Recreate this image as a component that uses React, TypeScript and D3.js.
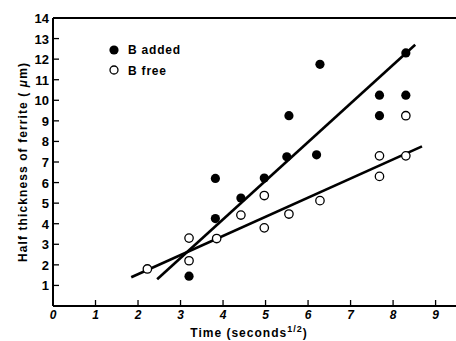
import React from 'react';
import * as d3 from 'd3';

// B added (filled circles)
const addedX = [3.2, 3.82, 3.82, 4.42, 4.97, 5.5, 5.55, 6.2, 6.28, 7.68, 7.68, 8.3, 8.3];
const addedY = [1.45, 6.2, 4.25, 5.25, 6.22, 7.25, 9.25, 7.35, 11.75, 10.25, 9.25, 12.3, 10.25];

// B free (open circles)
const freeX = [2.22, 3.2, 3.2, 3.85, 4.42, 4.97, 4.97, 5.55, 6.28, 7.68, 7.68, 8.3, 8.3];
const freeY = [1.8, 3.3, 2.2, 3.28, 4.42, 5.37, 3.8, 4.47, 5.12, 6.3, 7.3, 9.25, 7.3];

// fitted lines (endpoints)
const addedFitX = [2.45, 8.52];
const addedFitY = [1.3, 12.7];
const freeFitX = [1.84, 8.68];
const freeFitY = [1.4, 7.76];

const xTicks = [0, 1, 2, 3, 4, 5, 6, 7, 8, 9];
const yTicks = [1, 2, 3, 4, 5, 6, 7, 8, 9, 10, 11, 12, 13, 14];

const W = 456;
const H = 341;

const App = () => {
  const x = d3.scaleLinear().domain([0, 9.48]).range([53, 456]);
  const y = d3.scaleLinear().domain([0, 14]).range([306, 18]);
  const line = d3.line<[number, number]>().x(d => x(d[0])).y(d => y(d[1]));

  const font = 'Liberation Sans, Arial, sans-serif';

  return (
    <svg width={W} height={H} style={{ position: 'absolute', left: 0, top: 0, background: '#fff' }}>
      {/* frame */}
      <line x1={x(0)} x2={x(0)} y1={y(0)} y2={y(14)} stroke="#000" strokeWidth={2} />
      <line x1={x(0)} x2={W} y1={y(0)} y2={y(0)} stroke="#000" strokeWidth={2} />
      <line x1={x(0)} x2={W} y1={y(14)} y2={y(14)} stroke="#000" strokeWidth={2} />

      {yTicks.map(t => (
        <g key={'y' + t}>
          <line x1={x(0)} x2={x(0) + 6} y1={y(t)} y2={y(t)} stroke="#000" strokeWidth={1.3} />
          <text x={x(0) - 4} y={y(t) + 5} textAnchor="end" fontFamily={font} fontWeight="bold" fontSize={13}>
            {t}
          </text>
        </g>
      ))}
      {xTicks.map(t => (
        <g key={'x' + t}>
          {t > 0 && <line x1={x(t)} x2={x(t)} y1={y(0)} y2={y(0) - 6} stroke="#000" strokeWidth={1.3} />}
          <text x={x(t)} y={319} textAnchor="middle" fontFamily={font} fontWeight="bold" fontStyle="italic" fontSize={12}>
            {t}
          </text>
        </g>
      ))}

      {/* axis titles */}
      <text x={249} y={337} textAnchor="middle" fontFamily={font} fontWeight="bold" fontSize={12} letterSpacing={1}>
        Time (seconds<tspan dy={-5} fontSize={9}>1/2</tspan><tspan dy={5}>)</tspan>
      </text>
      <text transform={`translate(27,${162}) rotate(-90)`} textAnchor="middle" fontFamily={font} fontWeight="bold" fontSize={12} letterSpacing={1.1}>
        Half thickness of ferrite ( <tspan fontStyle="italic">μ</tspan>m)
      </text>

      {/* fits */}
      <path d={line(d3.zip(addedFitX, addedFitY) as [number, number][]) || ''} fill="none" stroke="#000" strokeWidth={2.6} />
      <path d={line(d3.zip(freeFitX, freeFitY) as [number, number][]) || ''} fill="none" stroke="#000" strokeWidth={2.6} />

      {/* points */}
      {addedX.map((v, i) => (
        <circle key={'a' + i} cx={x(v)} cy={y(addedY[i])} r={4.6} fill="#000" />
      ))}
      {freeX.map((v, i) => (
        <circle key={'f' + i} cx={x(v)} cy={y(freeY[i])} r={4.2} fill="#fff" stroke="#000" strokeWidth={1.3} />
      ))}

      {/* legend */}
      <circle cx={114} cy={50} r={4.6} fill="#000" />
      <text x={128} y={54} fontFamily={font} fontWeight="bold" fontSize={12} letterSpacing={0.8}>B added</text>
      <circle cx={114} cy={70} r={4} fill="#fff" stroke="#000" strokeWidth={1.3} />
      <text x={128} y={75} fontFamily={font} fontWeight="bold" fontSize={12} letterSpacing={0.8}>B free</text>
    </svg>
  );
};

export default App;
